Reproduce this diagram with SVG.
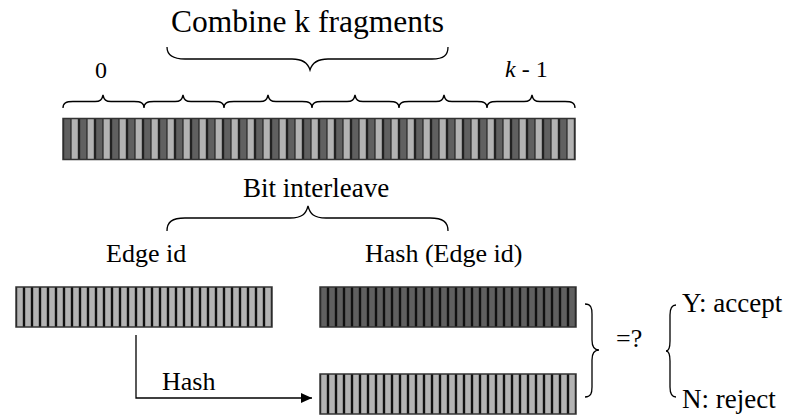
<svg xmlns="http://www.w3.org/2000/svg" width="804" height="415" viewBox="0 0 804 415">
<style>
text { fill: #000; }
.brace { fill: none; stroke: #000; stroke-width: 1.3; }
.bar { stroke: #333; stroke-width: 1.5; }
.conn { fill: none; stroke: #000; stroke-width: 1.3; }
</style>
<defs>
<pattern id="mix" patternUnits="userSpaceOnUse" x="63" y="0" width="16" height="415">
<rect x="0" y="0" width="8" height="415" fill="#606060"/>
<rect x="8" y="0" width="8" height="415" fill="#b3b3b3"/>
<line x1="0" y1="0" x2="0" y2="415" stroke="#222" stroke-width="2.4"/>
<line x1="8" y1="0" x2="8" y2="415" stroke="#222" stroke-width="1.2"/>
<line x1="16" y1="0" x2="16" y2="415" stroke="#222" stroke-width="2.4"/>
</pattern>
<pattern id="lightA" patternUnits="userSpaceOnUse" x="16" y="0" width="8" height="415">
<rect x="0" y="0" width="8" height="415" fill="#b3b3b3"/>
<line x1="0" y1="0" x2="0" y2="415" stroke="#111" stroke-width="2.4"/>
<line x1="8" y1="0" x2="8" y2="415" stroke="#111" stroke-width="2.4"/>
</pattern>
<pattern id="lightB" patternUnits="userSpaceOnUse" x="320" y="0" width="8" height="415">
<rect x="0" y="0" width="8" height="415" fill="#b3b3b3"/>
<line x1="0" y1="0" x2="0" y2="415" stroke="#111" stroke-width="2.4"/>
<line x1="8" y1="0" x2="8" y2="415" stroke="#111" stroke-width="2.4"/>
</pattern>
<pattern id="darkB" patternUnits="userSpaceOnUse" x="320" y="0" width="8" height="415">
<rect x="0" y="0" width="8" height="415" fill="#606060"/>
<line x1="0" y1="0" x2="0" y2="415" stroke="#111" stroke-width="2.4"/>
<line x1="8" y1="0" x2="8" y2="415" stroke="#111" stroke-width="2.4"/>
</pattern>
<marker id="arrow" markerUnits="userSpaceOnUse" markerWidth="12" markerHeight="12" refX="11" refY="6" orient="auto">
<path d="M0,1 L11,6 L0,11 Z" fill="#000"/>
</marker>
</defs>

<g id="combined">
<text x="171" y="32" font-family="Liberation Serif" font-size="31.5">Combine k fragments</text>
<path class="brace" d="M167,47 C167,55 172,59 185,59 L292,59 C303,59 308,63 310,70 C312,63 317,59 328,59 L432,59 C444,59 448,55 448,47"/>
<text x="95" y="78" font-family="Liberation Serif" font-size="24">0</text>
<text x="505" y="77" font-family="Liberation Serif" font-size="24"><tspan font-style="italic">k</tspan> - 1</text>
<path class="brace" d="M63,108 C63,103 66,101.5 73,101.5 L95,101.5 C100,101.5 102,100 103,95 C104,100 106,101.5 111,101.5 L134,101.5 C141,101.5 144,103 144,108 C144,103 147,101.5 154,101.5 L175,101.5 C180,101.5 182,100 183,95 C184,100 186,101.5 191,101.5 L214,101.5 C221,101.5 224,103 224,108 C224,103 227,101.5 234,101.5 L260,101.5 C265,101.5 267,100 268,95 C269,100 271,101.5 276,101.5 L302,101.5 C309,101.5 312,103 312,108 C312,103 315,101.5 322,101.5 L347,101.5 C352,101.5 354,100 355,95 C356,100 358,101.5 363,101.5 L389,101.5 C396,101.5 399,103 399,108 C399,103 402,101.5 409,101.5 L436,101.5 C441,101.5 443,100 444,95 C445,100 447,101.5 452,101.5 L477,101.5 C484,101.5 487,103 487,108 C487,103 490,101.5 497,101.5 L524,101.5 C529,101.5 531,100 532,95 C533,100 535,101.5 540,101.5 L565,101.5 C572,101.5 575,103 575,108"/>
<rect class="bar" x="63" y="118.5" width="512" height="41" fill="url(#mix)"/>
<text x="243" y="197" font-family="Liberation Serif" font-size="27">Bit interleave</text>
<path class="brace" d="M167,231 C167,222 172,218 185,218 L290,218 C302,218 306,214 308,206 C310,214 314,218 326,218 L430,218 C443,218 448,222 448,231"/>
</g>

<g id="edge-id">
<text x="106" y="262" font-family="Liberation Serif" font-size="26">Edge id</text>
<rect class="bar" x="16" y="287" width="256" height="40" fill="url(#lightA)"/>
</g>

<g id="hash-edge-id">
<text x="365" y="262" font-family="Liberation Serif" font-size="26">Hash (Edge id)</text>
<rect class="bar" x="320" y="287" width="256" height="40" fill="url(#darkB)"/>
</g>

<g id="hashed">
<rect class="bar" x="320" y="374" width="256" height="40" fill="url(#lightB)"/>
</g>

<g id="compare">
<path class="brace" d="M585,304 C591,304 592,308 592,314 L592,340 C592,346 594,350 599,350 C594,350 592,354 592,360 L592,387 C592,393 591,397 585,397"/>
<text x="616" y="347" font-family="Liberation Serif" font-size="26">=?</text>
<path class="brace" d="M676,305 C671,305 670,309 670,315 L670,341 C670,347 669,351 666,351 C669,351 670,355 670,361 L670,387 C670,393 671,397 676,397"/>
<text x="682" y="312" font-family="Liberation Serif" font-size="27">Y: accept</text>
<text x="682" y="408" font-family="Liberation Serif" font-size="27">N: reject</text>
</g>

<g id="connectors">
<path class="conn" d="M136,335 L136,398 L312,398" marker-end="url(#arrow)"/>
<text x="162" y="390" font-family="Liberation Serif" font-size="26">Hash</text>
</g>
</svg>
